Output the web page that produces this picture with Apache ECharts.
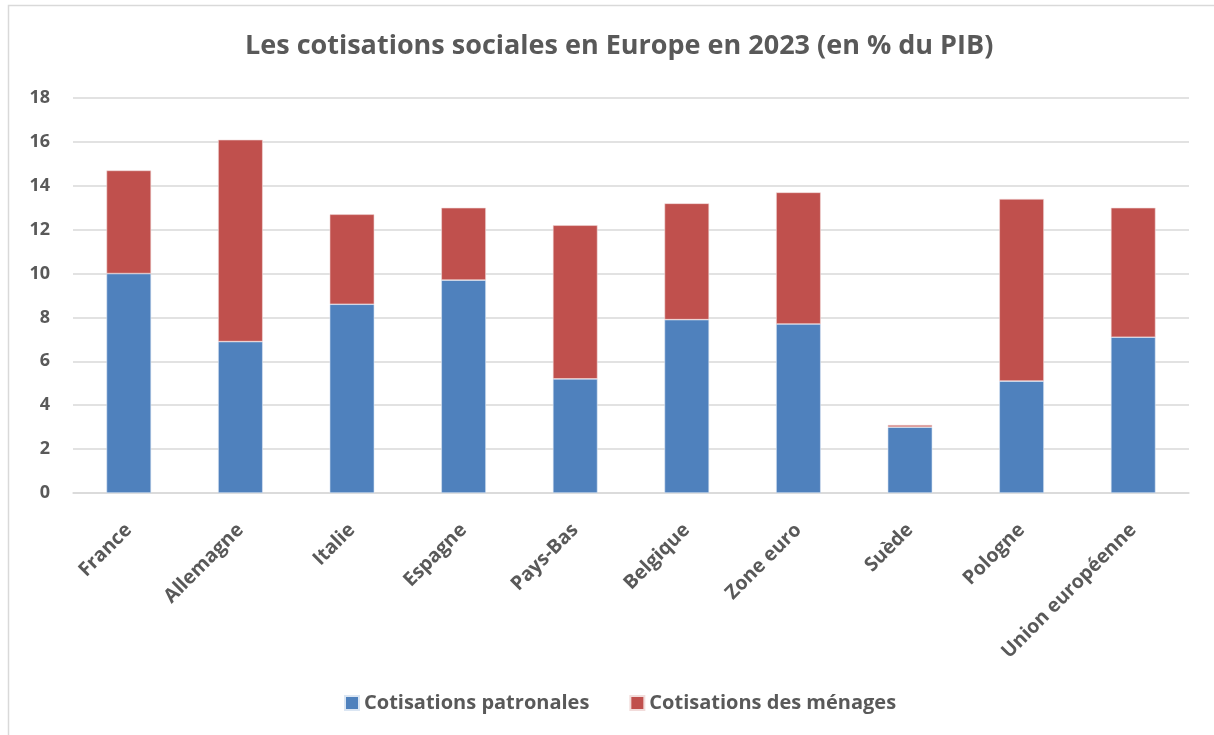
<!DOCTYPE html>
<html>
<head>
<meta charset="utf-8">
<script src="https://cdn.jsdelivr.net/npm/echarts@6/dist/echarts.min.js"></script>
<style>
  html, body { margin: 0; padding: 0; background: #fff; }
  #chart { width: 1214px; height: 735px; }
</style>
</head>
<body>
<div id="chart"></div>
<script>
// pays / zones
const categories = ['France', 'Allemagne', 'Italie', 'Espagne', 'Pays-Bas', 'Belgique', 'Zone euro', 'Suède', 'Pologne', 'Union européenne'];
// % du PIB
const patronales = [10.0, 6.9, 8.6, 9.7, 5.2, 7.9, 7.7, 3.0, 5.1, 7.1];
const menages = [4.7, 9.2, 4.1, 3.3, 7.0, 5.3, 6.0, 0.1, 8.3, 5.9];

const textColor = '#595959';
const font = 'Open Sans';

var chart = echarts.init(document.getElementById('chart'));
chart.setOption({
	animation: false,
	textStyle: { fontFamily: font },
	graphic: [{
		type: 'rect',
		shape: { x: 8.5, y: 5.5, width: 1230, height: 760 },
		style: { fill: null, stroke: '#d9d9d9', lineWidth: 1.5 },
		silent: true
	}],
	title: {
		text: 'Les cotisations sociales en Europe en 2023 (en % du PIB)',
		left: 240,
		top: 28,
		textStyle: { fontFamily: font, fontSize: 27, fontWeight: 'bold', color: textColor }
	},
	legend: {
		top: 688,
		left: 339,
		itemWidth: 14,
		itemHeight: 14,
		itemGap: 40,
		icon: 'rect',
		textStyle: { fontFamily: font, fontSize: 20, fontWeight: 'bold', color: textColor },
		data: ['Cotisations patronales', 'Cotisations des ménages']
	},
	grid: {
		left: 73,
		right: 25,
		top: 98,
		bottom: 242,
		containLabel: false
	},
	xAxis: {
		type: 'category',
		data: categories,
		axisLine: { lineStyle: { color: '#d9d9d9', width: 1.5 } },
		axisTick: { show: false },
		axisLabel: {
			rotate: 45,
			interval: 0,
			margin: 34,
			color: textColor,
			fontFamily: font,
			fontSize: 19.5,
			fontWeight: 'bold'
		}
	},
	yAxis: {
		type: 'value',
		min: 0,
		max: 18,
		interval: 2,
		axisLine: { show: false },
		axisTick: { show: false },
		splitLine: { lineStyle: { color: '#d9d9d9', width: 1.5 } },
		axisLabel: {
			margin: 23,
			color: textColor,
			fontFamily: font,
			fontSize: 18,
			fontWeight: 'bold'
		}
	},
	series: [{
		name: 'Cotisations patronales',
		type: 'bar',
		stack: 'total',
		barWidth: '40%',
		data: patronales,
		itemStyle: { color: '#4f81bd', borderColor: '#dbe6f3', borderWidth: 0.6 }
	}, {
		name: 'Cotisations des ménages',
		type: 'bar',
		stack: 'total',
		barWidth: '40%',
		data: menages,
		itemStyle: { color: '#c0504d', borderColor: '#f2dcdb', borderWidth: 0.6 }
	}]
});
</script>
</body>
</html>
